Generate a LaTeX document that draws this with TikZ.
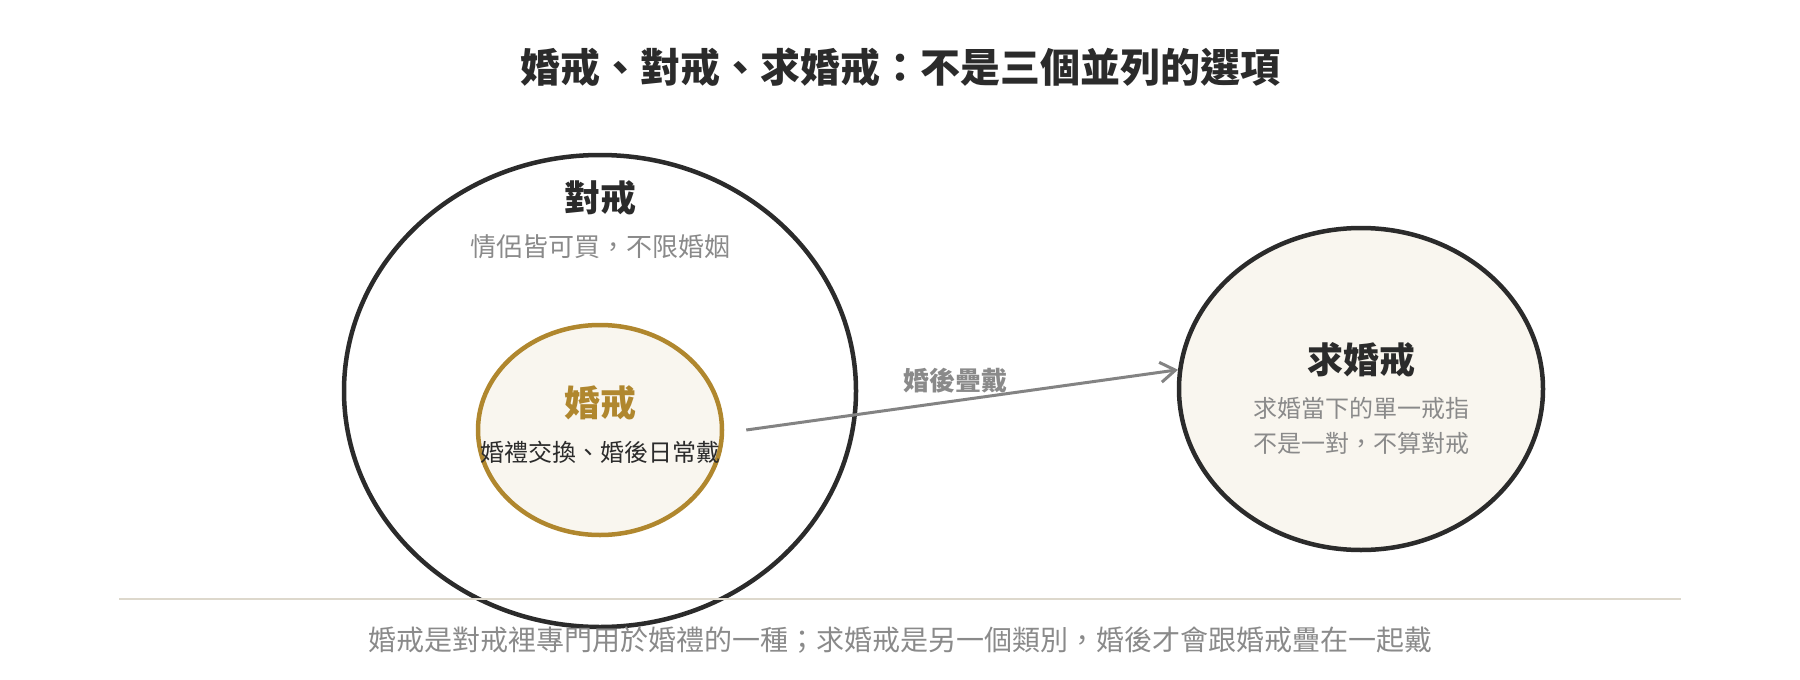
\documentclass[tikz,border=0pt]{standalone}
\usepackage{fontspec}
\setmainfont{Noto Sans CJK TC}
\usetikzlibrary{shapes.geometric,arrows.meta}
\definecolor{ink}{HTML}{2B2B2B}
\definecolor{huise}{HTML}{8A8A8A}
\definecolor{jinse}{HTML}{B0872E}
\definecolor{mise}{HTML}{F9F6EF}
\definecolor{fenge}{HTML}{DDD8CC}
\begin{document}
\begin{tikzpicture}[x=1pt,y=-1pt,
    ring/.style={ellipse,draw=ink,line width=4.5pt,inner sep=0pt},
    head/.style={text=ink,font=\fontsize{36}{40}\selectfont\bfseries},
    note/.style={text=huise,font=\fontsize{24}{35}\selectfont,align=center}]
    \useasboundingbox (0,0) rectangle (1800,680);
    % 标题
    \node[text=ink,font=\fontsize{40}{48}\selectfont\bfseries] (biaoti) at (900,67) {婚戒、對戒、求婚戒：不是三個並列的選項};

    % 对戒（外圈）
    \node[ring,minimum width=512pt,minimum height=472pt] (duijie) at (600,391) {};
    \node[head] (duijieming) at (600,198) {對戒};
    \node[note,font=\fontsize{26}{30}\selectfont] (duijieshuo) at (600,247) {情侶皆可買，不限婚姻};

    % 婚戒（内圈）
    \node[ring,draw=jinse,fill=mise,minimum width=244pt,minimum height=210pt] (hunjie) at (600,430) {};
    \node[head,text=jinse] (hunjieming) at (600,403) {婚戒};
    \node[note,text=ink] (hunjieshuo) at (600,452) {婚禮交換、婚後日常戴};

    % 求婚戒
    \node[ring,fill=mise,minimum width=364pt,minimum height=322pt] (qiujie) at (1361,389) {};
    \node[head] (qiujieming) at (1361,360) {求婚戒};
    \node[note] (qiujieshuo) at (1361,426) {求婚當下的單一戒指\\不是一對，不算對戒};

    % 婚后叠戴
    \draw[huise!95!black,line width=3pt,-{Straight Barb[length=15pt,width=20pt]}] ([xshift=22pt]hunjie.east) -- (qiujie.174)
        node[pos=0.485,yshift=20pt,text=huise,font=\fontsize{26}{30}\selectfont\bfseries] (diedai) {婚後疊戴};

    % 分隔线与说明
    \coordinate (zuo) at (119,599);
    \coordinate (you) at (1681,599);
    \draw[fenge,line width=2pt] (zuo) -- (you);
    \node[text=huise,font=\fontsize{28}{32}\selectfont] (shuoming) at (900,640) {婚戒是對戒裡專門用於婚禮的一種；求婚戒是另一個類別，婚後才會跟婚戒疊在一起戴};
\end{tikzpicture}
\end{document}
